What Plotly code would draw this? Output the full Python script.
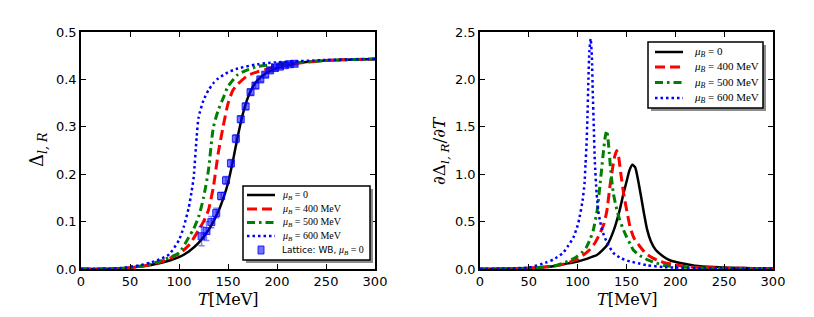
import plotly.graph_objects as go

# ---------------- data: left panel (Delta_{l,R}) ----------------
T_mu0 = [0, 20, 40, 60, 80, 100, 110, 120, 130, 140, 145, 150, 155, 160, 165, 170, 175, 180, 190, 200, 220, 250, 300]
D_mu0 = [0, 0.0002, 0.001, 0.005, 0.012, 0.025, 0.037, 0.055, 0.082, 0.121, 0.148, 0.181, 0.228, 0.28, 0.326, 0.36, 0.383, 0.398, 0.415, 0.424, 0.434, 0.44, 0.443]

T_mu400 = [0, 20, 40, 60, 80, 100, 110, 120, 125, 130, 135, 140, 145, 150, 155, 160, 170, 180, 200, 220, 250, 300]
D_mu400 = [0, 0.0002, 0.001, 0.005, 0.014, 0.032, 0.05, 0.082, 0.1, 0.124, 0.172, 0.244, 0.3, 0.349, 0.377, 0.39, 0.408, 0.416, 0.427, 0.434, 0.44, 0.443]

T_mu500 = [0, 20, 40, 60, 80, 90, 100, 110, 115, 120, 125, 130, 135, 140, 145, 150, 160, 170, 180, 200, 250, 300]
D_mu500 = [0, 0.0002, 0.001, 0.006, 0.016, 0.024, 0.034, 0.067, 0.085, 0.11, 0.15, 0.208, 0.298, 0.335, 0.36, 0.385, 0.41, 0.42, 0.427, 0.432, 0.44, 0.443]

T_mu600 = [0, 20, 40, 60, 70, 80, 90, 100, 105, 110, 113, 115, 118, 120, 125, 130, 135, 140, 150, 160, 180, 200, 250, 300]
D_mu600 = [0, 0.0003, 0.002, 0.008, 0.013, 0.02, 0.031, 0.061, 0.09, 0.13, 0.165, 0.194, 0.278, 0.32, 0.356, 0.377, 0.392, 0.402, 0.415, 0.423, 0.432, 0.436, 0.441, 0.443]

T_lat = [123, 128, 133, 138, 143, 148, 153, 158, 163, 168, 173, 178, 183, 188, 193, 198, 203, 208, 213, 218]
D_lat = [0.069, 0.08, 0.099, 0.118, 0.154, 0.187, 0.223, 0.275, 0.316, 0.343, 0.373, 0.387, 0.4, 0.41, 0.419, 0.424, 0.427, 0.43, 0.432, 0.433]
E_lat = [0.02, 0.02, 0.012, 0.01, 0.008, 0.008, 0.008, 0.008, 0.007, 0.007, 0.006, 0.006, 0.005, 0.005, 0.005, 0.005, 0.004, 0.004, 0.004, 0.004]

# ---------------- data: right panel (dDelta/dT) ----------------
Td_mu0 = [0, 25, 50, 75, 85, 100, 110, 120, 130, 137, 143, 147, 150, 153, 156, 159, 162, 165, 168, 171, 175, 180, 188, 195, 205, 220, 240, 270, 300]
V_mu0 = [0, 0.003, 0.01, 0.03, 0.05, 0.08, 0.11, 0.15, 0.25, 0.41, 0.62, 0.8, 0.92, 1.04, 1.1, 1.07, 0.93, 0.76, 0.58, 0.42, 0.29, 0.2, 0.13, 0.09, 0.063, 0.035, 0.02, 0.01, 0.005]

Td_mu400 = [0, 25, 50, 75, 85, 99, 105, 112, 118, 123, 127, 130, 133, 136, 138, 140, 142, 144, 147, 150, 154, 158, 164, 170, 177, 185, 191, 200, 211, 230, 260, 300]
V_mu400 = [0, 0.003, 0.01, 0.03, 0.05, 0.1, 0.14, 0.2, 0.28, 0.38, 0.48, 0.62, 0.87, 1.08, 1.19, 1.25, 1.18, 1.02, 0.8, 0.63, 0.43, 0.32, 0.235, 0.16, 0.115, 0.08, 0.06, 0.045, 0.025, 0.015, 0.008, 0.004]

Td_mu500 = [0, 25, 50, 75, 85, 92, 99, 104, 109, 113, 116, 120, 123, 125, 126.5, 128, 129.7, 131, 132.4, 134, 136.5, 140, 143, 147, 150, 154, 157, 164, 171, 180, 188, 200, 230, 300]
V_mu500 = [0, 0.003, 0.01, 0.03, 0.06, 0.09, 0.13, 0.17, 0.23, 0.32, 0.41, 0.62, 0.9, 1.1, 1.25, 1.38, 1.46, 1.38, 1.22, 1.02, 0.8, 0.63, 0.52, 0.41, 0.34, 0.26, 0.2, 0.14, 0.1, 0.065, 0.04, 0.025, 0.01, 0.004]

Td_mu600 = [0, 25, 50, 68, 75, 85, 90, 95.5, 100, 102, 105, 107, 108, 109, 110, 111, 112, 113.3, 114.5, 115.5, 116.5, 117.5, 119.4, 121, 123, 126, 130, 136.5, 145, 153.5, 162, 171, 188, 200, 230, 300]
V_mu600 = [0, 0.004, 0.015, 0.07, 0.1, 0.17, 0.24, 0.33, 0.46, 0.55, 0.72, 0.9, 1.1, 1.3, 1.6, 2.0, 2.3, 2.43, 2.25, 1.85, 1.5, 1.15, 0.8, 0.62, 0.5, 0.38, 0.28, 0.17, 0.11, 0.08, 0.06, 0.04, 0.02, 0.015, 0.008, 0.004]

labels = ["<i>μ<sub>B</sub></i> = 0", "<i>μ<sub>B</sub></i> = 400 MeV", "<i>μ<sub>B</sub></i> = 500 MeV", "<i>μ<sub>B</sub></i> = 600 MeV"]
lat_label = "<i>μ<sub>B</sub></i> = 0"
colors = ["black", "red", "green", "blue"]
dashes = ["solid", "10px,5px", "8px,4px,2.5px,4px", "2.5px,3px"]
widths = [2.5, 3, 3, 2.5]

W, H = 814, 317
OFF = 8  # page body margin offset


def px(x):
    return (x - OFF) / W


def py(y):
    return 1 - (y - OFF) / H


fig = go.Figure()

left_sets = [(T_mu0, D_mu0), (T_mu400, D_mu400), (T_mu500, D_mu500), (T_mu600, D_mu600)]
right_sets = [(Td_mu0, V_mu0), (Td_mu400, V_mu400), (Td_mu500, V_mu500), (Td_mu600, V_mu600)]

for i, (x, y) in enumerate(left_sets):
    fig.add_trace(go.Scatter(x=x, y=y, mode="lines", name=labels[i], xaxis="x", yaxis="y", showlegend=False,
                             line=dict(color=colors[i], dash=dashes[i], width=widths[i], shape="spline", smoothing=0.6)))
fig.add_trace(go.Scatter(x=T_lat, y=D_lat, mode="markers", name="Lattice: WB, " + lat_label, xaxis="x", yaxis="y",
                         showlegend=False,
                         marker=dict(symbol="square", size=7, color="rgba(0,0,255,0.55)",
                                     line=dict(color="rgba(0,0,255,0.8)", width=1)),
                         error_y=dict(type="data", array=E_lat, color="rgba(0,0,255,0.5)", thickness=1.5, width=3)))

for i, (x, y) in enumerate(right_sets):
    fig.add_trace(go.Scatter(x=x, y=y, mode="lines", name=labels[i], xaxis="x2", yaxis="y2", showlegend=False,
                             line=dict(color=colors[i], dash=dashes[i], width=widths[i], shape="spline", smoothing=0.5)))

axis_common = dict(showline=True, linecolor="black", linewidth=1.5, mirror="allticks", ticks="inside",
                   ticklen=5, tickcolor="black", showgrid=False, zeroline=False,
                   tickfont=dict(family="DejaVu Sans", size=13, color="black"), automargin=False)

shapes = []
annotations = []

# ---- manual legends (matplotlib-style box with shadow) ----
def add_legend(box, rows_y, sample_x, text_x, fsize, entries, shadow=3):
    x0, y0_, x1, y1_ = box
    shapes.append(dict(type="rect", xref="paper", yref="paper", x0=px(x0 + shadow), x1=px(x1 + shadow),
                       y0=py(y1_ + shadow), y1=py(y0_ + shadow), fillcolor="#8c8c8c", line=dict(width=0), layer="above"))
    shapes.append(dict(type="rect", xref="paper", yref="paper", x0=px(x0), x1=px(x1),
                       y0=py(y1_), y1=py(y0_), fillcolor="white", line=dict(color="black", width=1.5), layer="above"))
    for (kind, style, text), yy in zip(entries, rows_y):
        if kind == "line":
            c, d, w = style
            shapes.append(dict(type="line", xref="paper", yref="paper", x0=px(sample_x[0]), x1=px(sample_x[1]),
                               y0=py(yy), y1=py(yy), line=dict(color=c, dash=d, width=w), layer="above"))
        else:
            cx = (sample_x[0] + sample_x[1]) / 2
            shapes.append(dict(type="rect", xref="paper", yref="paper", x0=px(cx - 3), x1=px(cx + 3),
                               y0=py(yy + 4), y1=py(yy - 4), fillcolor="rgba(0,0,255,0.55)",
                               line=dict(color="rgba(0,0,255,0.8)", width=1), layer="above"))
        annotations.append(dict(text=text, x=px(text_x), y=py(yy), xref="paper", yref="paper", xanchor="left",
                                yanchor="middle", showarrow=False,
                                font=dict(family="Liberation Serif", size=fsize, color="black")))


left_entries = [("line", (colors[i], dashes[i], widths[i]), labels[i]) for i in range(4)]
left_entries.append(("marker", None,
                     "<span style='font-family:DejaVu Sans;font-size:9px'>Lattice: WB,</span> " + lat_label))
add_legend((243, 186, 370, 260), [195, 209, 222.5, 236, 250], (247, 275), 280, 10, left_entries)

right_entries = [("line", (colors[i], dashes[i], widths[i]), labels[i]) for i in range(4)]
add_legend((648, 42, 763, 108), [52, 67, 82.5, 98], (655, 683), 692, 11, right_entries)

annotations += [
    dict(text="Δ<sub><i>l, R</i></sub>", x=px(38), y=py(150), xref="paper", yref="paper",
         xanchor="center", yanchor="middle",
         textangle=-90, showarrow=False, font=dict(family="DejaVu Serif", size=18, color="black")),
    dict(text="∂Δ<sub><i>l, R</i></sub>/∂<i>T</i>", x=px(440), y=py(150), xref="paper", yref="paper",
         xanchor="center", yanchor="middle",
         textangle=-90, showarrow=False, font=dict(family="DejaVu Serif", size=17, color="black")),
    dict(text="<i>T</i>[MeV]", x=px(228), y=py(299), xref="paper", yref="paper",
         xanchor="center", yanchor="middle",
         showarrow=False, font=dict(family="DejaVu Serif", size=16, color="black")),
    dict(text="<i>T</i>[MeV]", x=px(627), y=py(299), xref="paper", yref="paper",
         xanchor="center", yanchor="middle",
         showarrow=False, font=dict(family="DejaVu Serif", size=16, color="black")),
]

fig.update_layout(
    width=W, height=H,
    margin=dict(l=0, r=0, t=0, b=0),
    paper_bgcolor="white", plot_bgcolor="white",
    xaxis=dict(domain=[px(81), px(375)], range=[0, 300], tickvals=[0, 50, 100, 150, 200, 250, 300], anchor="y", **axis_common),
    yaxis=dict(domain=[py(269), py(32)], range=[0, 0.5], tickvals=[0, 0.1, 0.2, 0.3, 0.4, 0.5], tickformat=".1f", anchor="x", **axis_common),
    xaxis2=dict(domain=[px(480), px(773)], range=[0, 300], tickvals=[0, 50, 100, 150, 200, 250, 300], anchor="y2", **axis_common),
    yaxis2=dict(domain=[py(269), py(32)], range=[0, 2.5], tickvals=[0, 0.5, 1.0, 1.5, 2.0, 2.5], tickformat=".1f", anchor="x2", **axis_common),
    showlegend=False,
    shapes=shapes,
    annotations=annotations,
)

fig.write_html("out.html")
